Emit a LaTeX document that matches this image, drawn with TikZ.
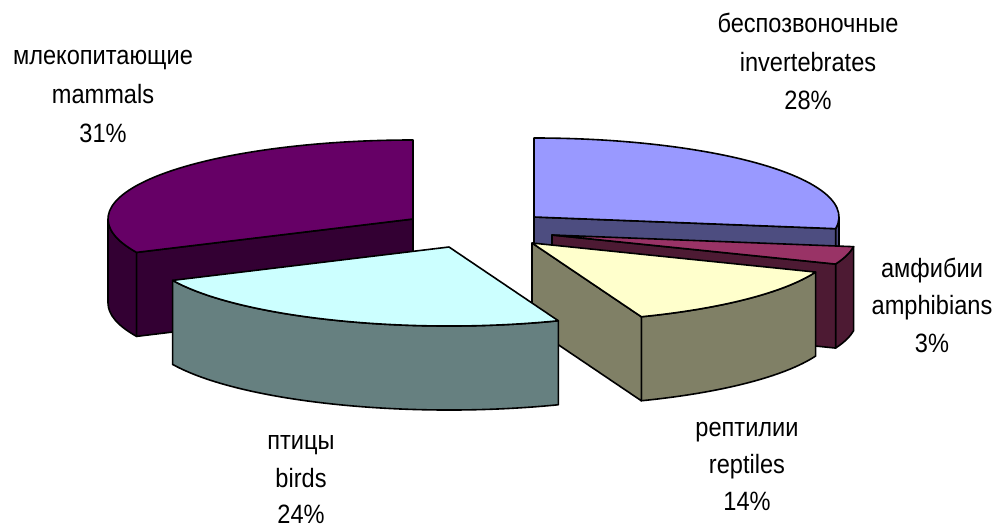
\documentclass[tikz,border=0pt]{standalone}
\usepackage{fontspec}
\setmainfont{Liberation Sans}[FakeStretch=0.89]
\definecolor{invtop}{HTML}{9999FF}
\definecolor{invside}{HTML}{4D4D80}
\definecolor{amptop}{HTML}{993366}
\definecolor{ampside}{HTML}{4D1A33}
\definecolor{reptop}{HTML}{FFFFCC}
\definecolor{repside}{HTML}{808066}
\definecolor{birdtop}{HTML}{CCFFFF}
\definecolor{birdside}{HTML}{668080}
\definecolor{mamtop}{HTML}{660066}
\definecolor{mamside}{HTML}{330033}
% outer curved side: cx, cy, from, to, colour
\newcommand{\pieouter}[5]{%
  \filldraw[pie,fill=#5,shift={(#1,#2)}] (#3:305 and 79) arc[start angle=#3,end angle=#4,x radius=305,y radius=79]
    -- ++(0,-84) arc[start angle=#4,end angle=#3,x radius=305,y radius=79] -- cycle;}
% radial cut face: cx, cy, angle, colour
\newcommand{\pieradial}[4]{%
  \filldraw[pie,fill=#4,shift={(#1,#2)}] (0,0) -- (#3:305 and 79) -- ++(0,-84) -- (0,-84) -- cycle;}
% top face: cx, cy, from, to, colour
\newcommand{\pietop}[5]{%
  \filldraw[pie,fill=#5,shift={(#1,#2)}] (0,0) -- (#3:305 and 79) arc[start angle=#3,end angle=#4,x radius=305,y radius=79] -- cycle;}
\begin{document}
\begin{tikzpicture}[x=1pt,y=1pt,
  pie/.style={draw=black,line width=1.6pt,line join=round},
  lbl/.style={anchor=base,inner sep=0pt,font=\fontsize{26.5}{30}\selectfont}]
\useasboundingbox (0,0) rectangle (1000,528);
\fill[white] (0,0) rectangle (1000,528);
% mammals 31%
\pieouter{413}{309}{180}{205}{mamside}
\pieradial{413}{309}{205}{mamside}
\pietop{413}{309}{90}{205}{mamtop}
% invertebrates 28%
\pieouter{534}{311}{-8.5}{0}{invside}
\pieradial{534}{311}{-8.5}{invside}
\pietop{534}{311}{-8.5}{90}{invtop}
% amphibians 3%
\pieouter{552}{293}{338.4}{351.5}{ampside}
\pieradial{552}{293}{338.4}{ampside}
\pietop{552}{293}{338.4}{351.5}{amptop}
% reptiles 14%
\pieouter{532}{285}{291}{338.4}{repside}
\pieradial{532}{285}{291}{repside}
\pietop{532}{285}{291}{338.4}{reptop}
% birds 24%
\pieouter{449}{281}{205}{291}{birdside}
\pietop{449}{281}{205}{291}{birdtop}
% labels
\node[lbl] (mam1) at (103,463) {млекопитающие};
\node[lbl] (mam2) at (103,424) {mammals};
\node[lbl] (mam3) at (103,385) {31\%};
\node[lbl] (inv1) at (808,495) {беспозвоночные};
\node[lbl] (inv2) at (808,456) {invertebrates};
\node[lbl] (inv3) at (808,418) {28\%};
\node[lbl] (amp1) at (932,251) {амфибии};
\node[lbl] (amp2) at (932,214) {amphibians};
\node[lbl] (amp3) at (932,176) {3\%};
\node[lbl] (rep1) at (747,92) {рептилии};
\node[lbl] (rep2) at (747,55) {reptiles};
\node[lbl] (rep3) at (747,18) {14\%};
\node[lbl] (bir1) at (301,79) {птицы};
\node[lbl] (bir2) at (301,41) {birds};
\node[lbl] (bir3) at (301,5) {24\%};
\end{tikzpicture}
\end{document}
